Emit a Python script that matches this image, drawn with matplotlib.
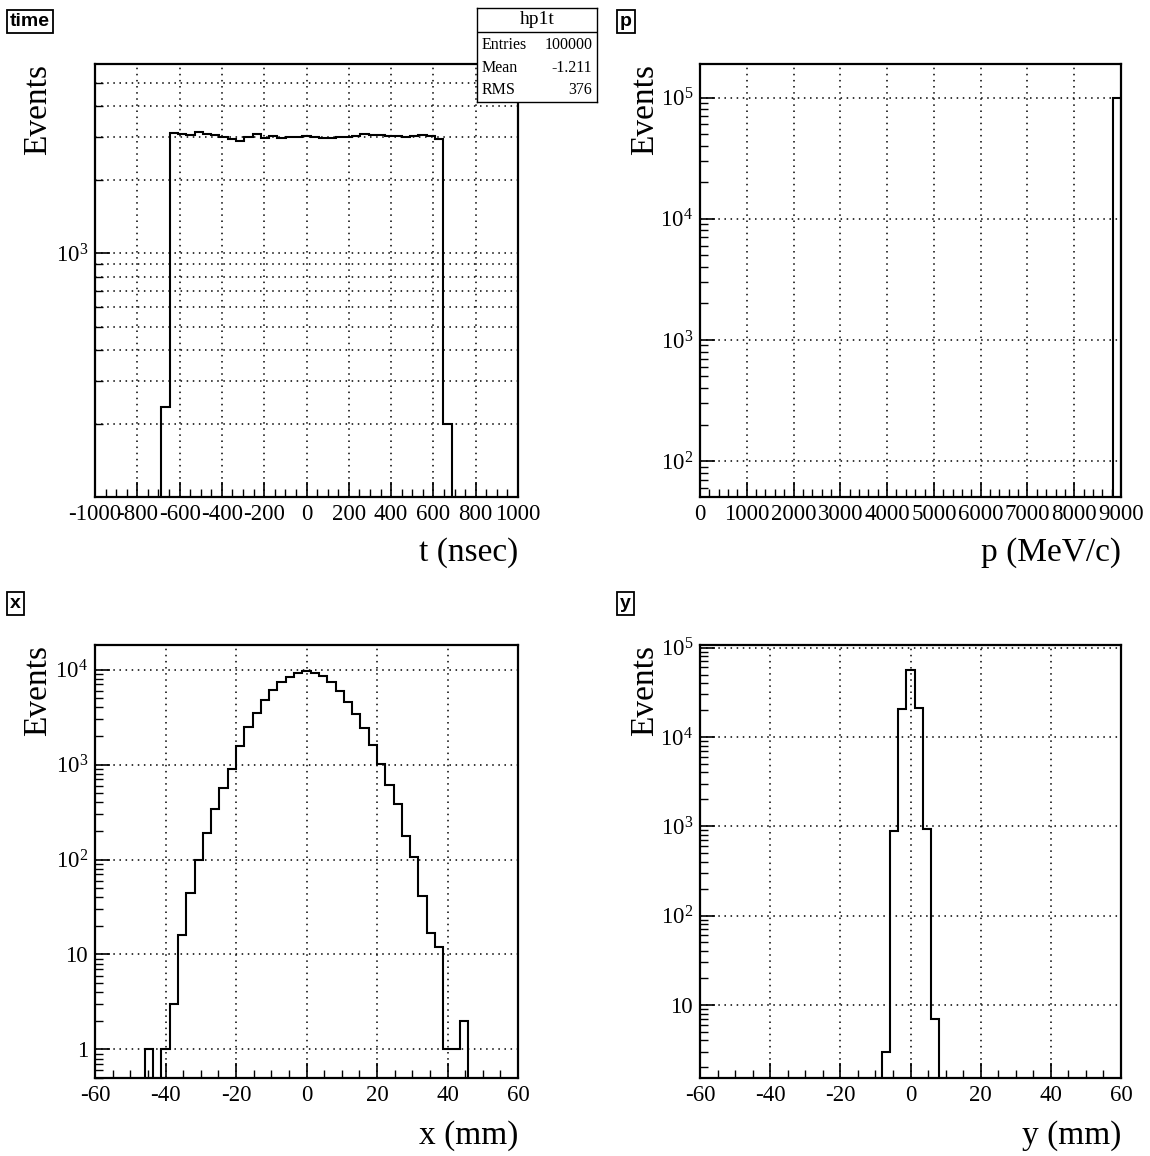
import numpy as np
import matplotlib
matplotlib.use("Agg")
import matplotlib.pyplot as plt
from matplotlib.ticker import NullFormatter

# ---- DADOS ----
time_range = (-1000, 1000)
time_nbins = 51
time_counts = [0, 0, 0, 0, 0, 0, 0, 0, 233,
               3114, 3076, 3057, 3143, 3086, 3057, 3000, 2953, 2888, 3000, 3086,
               2972, 3028, 2981, 2991, 3009, 3038, 3000, 2972, 2972, 2991, 3000,
               3019, 3076, 3057, 3066, 3038, 3019, 3000, 3019, 3066, 3038, 2953,
               200, 0, 0, 0, 0, 0, 0, 0, 0]

p_range = (0, 9000)
p_nbins = 50
p_counts = [0] * 49 + [100000]

x_range = (-60, 60)
x_nbins = 51
x_counts = [0, 0, 0, 0, 0, 0, 1, 0, 1, 3, 16, 44, 100, 190, 340, 571,
            907, 1563, 2500, 3460, 4820, 6150, 7350, 8440, 9300, 9600,
            9220, 8510, 7350, 5990, 4520, 3400, 2460, 1614, 1025,
            615, 385, 179, 106, 41, 17, 12, 1, 1, 2, 0, 0, 0, 0, 0, 0]

y_range = (-60, 60)
y_nbins = 51
y_counts = [0] * 22 + [3, 880, 20800, 56500, 20900, 934, 7] + [0] * 22

time_xticks = [-1000, -800, -600, -400, -200, 0, 200, 400, 600, 800, 1000]
p_xticks = [0, 1000, 2000, 3000, 4000, 5000, 6000, 7000, 8000, 9000]
pos_xticks = [-60, -40, -20, 0, 20, 40, 60]

stats_rows = [("Entries", "100000"), ("Mean", "-1.211"), ("RMS", "376")]

plt.rcParams["font.family"] = ["Liberation Serif", "DejaVu Serif"]
plt.rcParams["mathtext.fontset"] = "custom"
plt.rcParams["mathtext.rm"] = "Liberation Serif"
plt.rcParams["axes.unicode_minus"] = False

W, H = 1150, 1156
fig = plt.figure(figsize=(W / 100, H / 100), dpi=100)


def pad_axes(l, t, r, b):
    return fig.add_axes([l / W, 1 - b / H, (r - l) / W, (b - t) / H])


def dec(e):
    if e == 0:
        return "1"
    if e == 1:
        return "10"
    return r"$\mathregular{10^{%d}}$" % e


def minors(e0, e1):
    return [m * 10.0 ** e for e in range(e0, e1) for m in range(2, 10)]


def painel(ax, rng, nbins, counts, ylim, xticks, xminor, yticks, ylabels, yminor,
           grid_minor=False):
    edges = np.linspace(rng[0], rng[1], nbins + 1)
    vals = np.asarray(counts, float)
    floor = ylim[0] * 1e-3
    ax.set_yscale("log")
    ax.stairs(np.where(vals > 0, vals, floor), edges, baseline=floor,
              color="black", lw=1.5, zorder=3)
    ax.set_xlim(*rng)
    ax.set_ylim(*ylim)
    ax.set_xticks(xticks)
    ax.set_xticklabels([str(t) for t in xticks])
    ax.set_xticks(xminor, minor=True)
    ax.set_yticks(yticks)
    ax.set_yticklabels(ylabels)
    ax.set_yticks(yminor, minor=True)
    ax.yaxis.set_minor_formatter(NullFormatter())
    ax.set_ylim(*ylim)
    ax.tick_params(which="major", direction="in", length=11, width=1.2,
                   labelsize=16.5, top=False, right=False, pad=5)
    ax.tick_params(which="minor", direction="in", length=6, width=1.0,
                   top=False, right=False)
    gs = dict(ls=(0, (1, 3)), color="black", lw=1.1)
    ax.grid(True, which="major", **gs)
    if grid_minor:
        ax.grid(True, which="minor", axis="y", **gs)
    for s in ax.spines.values():
        s.set_linewidth(1.6)


def rotulos(ax, xlabel, xoff, yoff, name, nx, ny):
    ax.text(xoff, 1.0, "Events", transform=ax.transAxes, rotation=90,
            ha="center", va="top", fontsize=24)
    ax.text(1.0, yoff, xlabel, transform=ax.transAxes, ha="right",
            va="center", fontsize=24)
    fig.text(nx / W, 1 - ny / H, name, ha="left", va="center", fontsize=14,
             fontweight="bold", family="Liberation Sans",
             bbox=dict(boxstyle="square,pad=0.15", fc="white", ec="black", lw=1.3))


# ---- time ----
ax1 = pad_axes(95, 64, 518, 497)
painel(ax1, time_range, time_nbins, time_counts, (100, 5970),
       time_xticks, np.arange(-1000, 1001, 50), [1000], [dec(3)],
       [200, 300, 400, 500, 600, 700, 800, 900, 2000, 3000, 4000, 5000],
       grid_minor=True)
rotulos(ax1, "t (nsec)", -0.135, -0.129, "time", 10, 21.5)

# ---- p ----
ax2 = pad_axes(700, 64, 1121, 497)
painel(ax2, p_range, p_nbins, p_counts, (50.6, 1.89e5),
       p_xticks, np.arange(0, 9001, 200), [1e2, 1e3, 1e4, 1e5],
       [dec(2), dec(3), dec(4), dec(5)], minors(1, 6))
rotulos(ax2, "p (MeV/c)", -0.13, -0.129, "p", 620, 21.5)

# ---- x ----
ax3 = pad_axes(95, 645, 518, 1078)
painel(ax3, x_range, x_nbins, x_counts, (0.5, 18200),
       pos_xticks, np.arange(-60, 61, 5), [1, 10, 100, 1e3, 1e4],
       [dec(0), dec(1), dec(2), dec(3), dec(4)], minors(-1, 5))
rotulos(ax3, "x (mm)", -0.135, -0.132, "x", 10, 603.5)

# ---- y ----
ax4 = pad_axes(700, 645, 1121, 1078)
painel(ax4, y_range, y_nbins, y_counts, (1.52, 1.07e5),
       pos_xticks, np.arange(-60, 61, 5), [10, 100, 1e3, 1e4, 1e5],
       [dec(1), dec(2), dec(3), dec(4), dec(5)], minors(0, 6))
rotulos(ax4, "y (mm)", -0.13, -0.132, "y", 620, 603.5)

# ---- caixa de estatisticas ----
sx = pad_axes(477, 8, 597, 102)
sx.set_xticks([])
sx.set_yticks([])
sx.set_xlim(0, 1)
sx.set_ylim(0, 1)
for s in sx.spines.values():
    s.set_linewidth(1.0)
sep = 1 - (32 - 8) / 94
sx.axhline(sep, color="black", lw=1.0)
sx.text(0.5, 1 - (20 - 8) / 94, "hp1t", ha="center", va="center", fontsize=14)
for i, (nome, valor) in enumerate(stats_rows):
    yy = 1 - (45 + 22.5 * i - 8) / 94
    sx.text(0.04, yy, nome, ha="left", va="center", fontsize=11.5)
    sx.text(0.96, yy, valor, ha="right", va="center", fontsize=11.5)

fig.savefig("out.png", dpi=100)
